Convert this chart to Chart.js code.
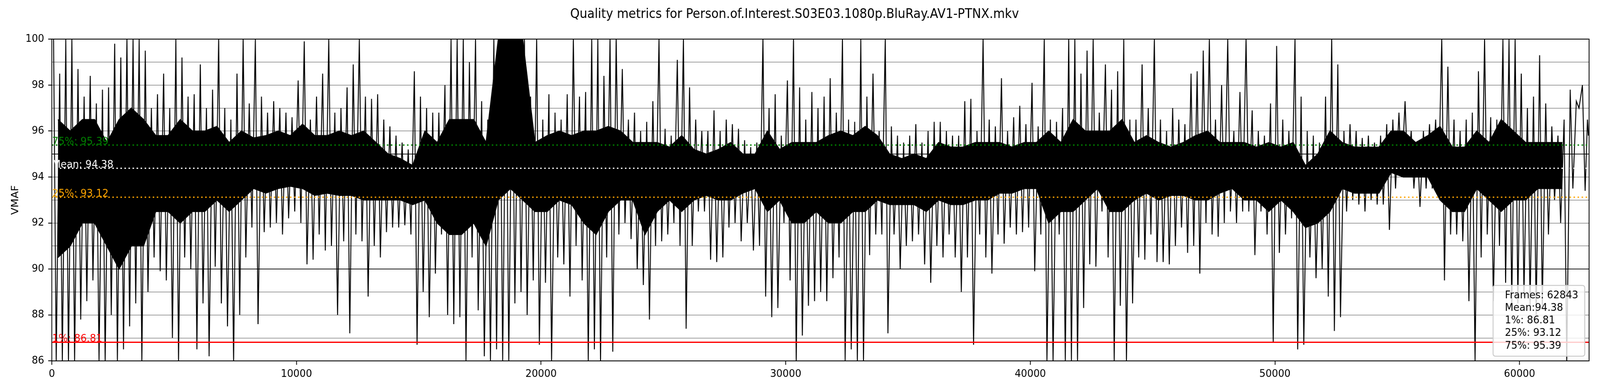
<!DOCTYPE html>
<html>
<head>
<meta charset="utf-8">
<script src="https://cdn.jsdelivr.net/npm/chart.js@4/dist/chart.umd.min.js"></script>
<style>html,body{margin:0;padding:0;background:#fff;overflow:hidden}canvas{display:block}</style>
</head>
<body>
<canvas id="c" width="4400" height="1000"></canvas>
<script>
// ---------------- data ----------------
const chartTitle = 'Quality metrics for Person.of.Interest.S03E03.1080p.BluRay.AV1-PTNX.mkv';
const yAxisTitle = 'VMAF';
const frameCount = 62843;
const yMin = 86;
const yMax = 100;
const xTickValues = [0, 10000, 20000, 30000, 40000, 50000, 60000];

// summary statistics
const statNames  = ['1%', '25%', 'Mean', '75%'];
const statValues = [86.81, 93.12, 94.38, 95.39];

// per 250-frame bin: highest and lowest VMAF reached
const BIN = 250;
const vmafBinHigh = [
 100,98.5,100,100,98.7,97.5,98.4,97.2,97.8,97.9, 99.8,99.2,100,100,100,99.5,97.0,97.6,98.5,97.0,
 100,99.2,97.5,97.6,98.9,97.0,97.8,100,97.0,96.5, 98.5,100,97.2,100,97.5,96.8,97.3,97.0,96.8,96.6,
 98.2,99.9,96.5,97.5,98.5,100,96.8,97.0,97.9,98.9, 100,97.5,97.4,97.6,96.5,96.2,95.8,95.5,95.2,98.6,
 97.5,97.0,
 96.8,96.8,98,100,100,100,99.0,100,97.3,96.5, 100,100,100,100,100,100,97.5,100,96.5,97.6,
 96.8,96.5,97.6,100,97.5,97.7,100,100,98.4,100, 100,98.7,96.5,96.8,96.0,96.4,97.3,100,96.1,95.8,
 99.1,100,97.9,96.5,96.0,96.0,96.9,96.0,96.5,96.3, 96.1,95.6,95.3,95.5,100,97.0,97.6,95.8,98.2,100,
 97.9,96.5,97.7,97.0,
 97.5,98.3,96.8,100,96.5,96.4,100,97.5,98.5,96.0, 100,96.2,95.8,95.5,95.8,96.3,95.5,96.0,96.4,96.4,
 96.0,95.8,95.8,97.3,97.4,96.0,100,96.5,96.2,98.3, 96.0,96.6,97.1,96.3,98.1,96.2,100,96.5,96.4,97.0,
 100,100,98.5,99.5,100,96.8,98.9,97.8,98.6,100, 96.5,96.5,98.9,97.0,100,96.5,96.0,97.0,96.5,96.3,
 98.5,98.6,99.5,
 100,96.5,98.0,100,96.0,97.7,100,96.9,96.0,95.8, 97.2,99.7,96.5,96.0,100,97.5,96.0,95.8,95.5,97.5,
 100,98.9,96.0,96.3,96.0,95.7,95.8,95.5,95.8,96.3, 96.5,96.8,97.3,96.0,95.5,96.0,96.3,96.5,100,98.8,
 96.5,96.0,96.5,96.8,98.6,100,96.6,96.5,100,100, 100,98.5,97.0,97.5,99.3,97.2,96.2,95.8,96.5,97.8,
 97.3,98.0,96.5
];
const vmafBinLow = [
 86,86,86,86,87.8,88.6,89.5,86,86,88.0, 86,86.5,87.5,88.5,86,89.0,90.5,89.9,89.5,87.0,
 86,90.5,90.0,86.5,88.5,86.2,90.1,88.5,87.5,86, 88.0,90.5,91.8,87.6,91.6,91.8,92.0,91.5,92.2,92.5,
 92.0,90.2,90.4,91.5,90.8,91.0,88.0,91.2,87.2,91.5, 91.2,88.8,91.0,90.5,91.6,91.8,91.8,91.9,91.5,86.7,
 89.0,87.9,
 89.8,91.5,88.0,87.6,87.9,86,90.5,88.2,86.2,86, 86.5,86,86,88.5,89.0,88.0,89.5,86.7,89.4,86,
 90.5,90.2,88.8,91.0,89.5,86,86.5,86,90.5,86.4, 91.5,92.0,91.3,90.0,89.3,87.8,91.0,91.2,91.5,92.0,
 91.0,87.4,91.0,92.5,92.5,90.4,90.3,90.5,91.8,92.0, 91.2,92.0,90.8,91.0,88.8,87.9,88.3,92.0,89.5,86,
 87.1,88.4,88.6,89.0,
 88.6,89.6,90.5,86,86.5,86,86,90.6,91.5,91.5, 87.2,91.5,90.0,91.0,91.2,91.5,90.2,89.4,91.0,90.5,
 91.5,90.5,89.0,90.5,86.7,91.5,90.5,89.8,91.5,91.1, 91.8,91.5,91.6,91.8,89.9,91.5,86,86,91.5,86,
 86,86,88.3,90.2,90.1,92.5,90.5,86,88.4,86, 88.5,90.5,90.4,91.5,90.3,90.3,90.2,91.0,91.8,90.7,
 91.0,89.8,92.0,
 91.5,91.4,92.0,92.5,92.0,92.5,92.5,90.6,92.5,91.5, 86.8,90.7,91.5,92.2,86.5,86.7,90.5,89.6,90.0,88.8,
 87.3,87.9,92.5,93.0,92.8,92.5,93.0,92.8,92.8,91.7, 93.5,94.0,94.0,93.5,92.7,93.5,93.5,93.2,89.5,91.5,
 91.5,91.2,88.6,86,90.5,91.5,88.6,91.0,89.4,88.3, 88.5,88.8,88.4,88.0,88.4,91.5,93.0,92.0,86,93.5,
 97.0,93.4,95.8
];

// per 500-frame bin: top and bottom of the dense (solid black) band; null = no dense band
const BAND_BIN = 500;
const vmafBandTop = [
 96.5,96,96.5,96.5,95.5,96.5,97,96.5,95.8,95.8, 96.5,96,96,96.2,95.5,96,95.7,95.8,96,95.8,
 96.3,95.8,95.8,96,95.8,96,95.5,95,94.8,94.5, 96,
 95.5,96.5,96.5,96.5,95.5,100,100,100,95.5,95.8, 96,95.8,96,96,96.2,96,95.5,95.5,95.5,95.3,
 95.8,95.2,95.0,95.2,95.5,95.0,95.0,96,95.2,95.5, 95.5,95.5,
 95.8,96,95.8,96.2,95.8,95,94.8,95,94.8,95.5, 95.3,95.3,95.5,95.5,95.5,95.3,95.5,95.5,96,95.5,
 96.5,96,96,96,96.5,95.5,95.8,95.5,95.3,95.5, 95.8,96,
 95.5,95.5,95.5,95.3,95.5,95.3,95.5,94.5,95,96, 95.5,95.3,95.3,95.3,96,96,95.5,95.8,96.2,95.3,
 95.3,96,95.5,96.5,96,95.5,95.5,95.5,95.5,null, null
];
const vmafBandBottom = [
 90.5,91,92,92,91,90,91,91,92.5,92.5, 92,92.5,92.5,93,92.5,93,93.5,93.3,93.5,93.6,
 93.5,93.2,93.3,93.2,93.2,93,93,93,93,92.8, 93,
 92,91.5,91.5,92,91,93,93.5,93,92.5,92.5, 93,92.8,92,91.5,92.5,93,93,91.5,92.5,93,
 92.5,93,93.2,93,93,93.3,93.5,92.5,93,92, 92,92.5,
 92,92,92.5,92.5,93,92.8,92.8,92.8,92.5,93, 92.8,92.8,93,93,93.3,93.3,93.5,93.5,92,92.5,
 92.5,93,93.5,92.5,92.5,93,93.3,93,93.2,93.2, 93,93,
 93.3,93.5,93,93,92.5,93,92.5,91.8,92,92.5, 93.5,93.3,93.3,93.3,94.2,94,94,94,93,92.5,
 92.5,93.5,93,92.5,93,93,93.5,93.5,93.5,null, null
];

// ---------------- styles ----------------
const FONT = '"DejaVu Sans", "Liberation Sans", sans-serif';
const DOT = [4, 7.1];
const statStyle = {
  '1%':   {color: '#ff0000', dash: [], width: 3.4},
  '25%':  {color: '#ffa500', dash: DOT, width: 3.3},
  'Mean': {color: '#ffffff', dash: DOT, width: 3.3},
  '75%':  {color: '#008000', dash: DOT, width: 3.3}
};

// ---------------- build datasets ----------------
const spikePts = [];
vmafBinHigh.forEach((h, i) => {
  const s = i * BIN;
  const e = Math.min(s + BIN, frameCount);
  spikePts.push({x: s + (e - s) * 0.28, y: h});
  spikePts.push({x: s + (e - s) * 0.72, y: vmafBinLow[i]});
});
const bandX = i => Math.min(i * BAND_BIN + BAND_BIN / 2, frameCount);
const bandTopPts = vmafBandTop.map((v, i) => ({x: bandX(i), y: v}));
const bandBotPts = vmafBandBottom.map((v, i) => ({x: bandX(i), y: v}));

const LW = 2.6;
const datasets = [
  {label: 'band top', data: bandTopPts, borderColor: '#000', borderWidth: LW, tension: 0,
   pointRadius: 0, fill: false, spanGaps: false, order: 3},
  {label: 'band bottom', data: bandBotPts, borderColor: '#000', borderWidth: LW, tension: 0,
   pointRadius: 0, fill: '-1', backgroundColor: '#000', spanGaps: false, order: 3},
  {label: 'VMAF', data: spikePts, borderColor: '#000', borderWidth: LW,
   pointRadius: 0, tension: 0, fill: false, order: 2}
];
statNames.forEach((n, i) => {
  datasets.push({
    label: n,
    data: [{x: 0, y: statValues[i]}, {x: frameCount, y: statValues[i]}],
    borderColor: statStyle[n].color, borderWidth: statStyle[n].width,
    borderDash: statStyle[n].dash, borderCapStyle: 'butt',
    pointRadius: 0, fill: false, order: 0
  });
});

const legendLines = [
  'Frames: ' + frameCount,
  'Mean:' + statValues[statNames.indexOf('Mean')].toFixed(2),
  '1%: ' + statValues[statNames.indexOf('1%')].toFixed(2),
  '25%: ' + statValues[statNames.indexOf('25%')].toFixed(2),
  '75%: ' + statValues[statNames.indexOf('75%')].toFixed(2)
];

// ---------------- overlay plugin ----------------
function roundRect(ctx, x, y, w, h, r) {
  ctx.beginPath();
  ctx.moveTo(x + r, y);
  ctx.lineTo(x + w - r, y); ctx.arcTo(x + w, y, x + w, y + r, r);
  ctx.lineTo(x + w, y + h - r); ctx.arcTo(x + w, y + h, x + w - r, y + h, r);
  ctx.lineTo(x + r, y + h); ctx.arcTo(x, y + h, x, y + h - r, r);
  ctx.lineTo(x, y + r); ctx.arcTo(x, y, x + r, y, r);
  ctx.closePath();
}
const overlay = {
  id: 'overlay',
  afterDatasetsDraw(chart) {
    const {ctx, chartArea: a} = chart;
    const ys = chart.scales.y;
    ctx.save();
    ctx.font = '27px ' + FONT;
    ctx.textAlign = 'left';
    ctx.textBaseline = 'alphabetic';
    statNames.forEach((n, i) => {
      ctx.fillStyle = statStyle[n].color;
      ctx.fillText(n + ': ' + statValues[i].toFixed(2), a.left + 1, ys.getPixelForValue(statValues[i]) - 1);
    });
    // spines
    ctx.strokeStyle = '#000';
    ctx.lineWidth = 2.2;
    ctx.strokeRect(a.left, a.top, a.right - a.left, a.bottom - a.top);
    // legend box
    const w = 252, h = 181;
    const bx = a.right - 12 - w, by = a.bottom - 12 - h;
    roundRect(ctx, bx, by, w, h, 6);
    ctx.fillStyle = 'rgba(255,255,255,0.8)';
    ctx.fill();
    ctx.strokeStyle = '#cccccc';
    ctx.lineWidth = 2.7;
    ctx.stroke();
    ctx.fillStyle = '#000';
    ctx.font = '27px ' + FONT;
    legendLines.forEach((t, i) => ctx.fillText(t, bx + 32.5, by + 32.5 + i * 32.25));
    ctx.restore();
  }
};

// ---------------- chart ----------------
Chart.defaults.font.family = FONT;
Chart.defaults.color = '#000';
const canvas = document.getElementById('c');
new Chart(canvas, {
  type: 'line',
  data: {datasets},
  plugins: [overlay],
  options: {
    responsive: false,
    animation: false,
    devicePixelRatio: 1,
    layout: {padding: {left: 0, right: 30, top: 0, bottom: 0}},
    plugins: {
      legend: {display: false},
      tooltip: {enabled: false},
      title: {
        display: true, text: chartTitle, color: '#000',
        font: {size: 33, weight: 'normal', family: FONT, lineHeight: 1.2},
        padding: {top: 17.4, bottom: 43}
      }
    },
    scales: {
      x: {
        type: 'linear', min: 0, max: frameCount,
        afterBuildTicks: s => { s.ticks = xTickValues.map(v => ({value: v})); },
        afterFit: s => { s.height = 77; },
        border: {display: false},
        grid: {display: true, drawOnChartArea: false, drawTicks: true, tickLength: 10,
               tickColor: '#000', tickWidth: 2.2},
        ticks: {autoSkip: false, maxRotation: 0, minRotation: 0,
                font: {size: 27}, color: '#000', padding: 8,
                callback: v => String(v)}
      },
      y: {
        type: 'linear', min: yMin, max: yMax,
        afterFit: s => { s.width = 142.5; },
        border: {display: false},
        title: {display: true, text: yAxisTitle, color: '#000', font: {size: 27},
                padding: {top: 26.8, bottom: 0}},
        grid: {
          color: c => (c.tick && c.tick.value % 5 === 0) ? '#1a1a1a' : '#808080',
          lineWidth: c => (c.tick && c.tick.value % 5 === 0) ? 2 : 1.4,
          drawTicks: true, tickLength: 10,
          tickColor: c => (c.tick && c.tick.value % 2 === 0) ? '#000' : 'rgba(0,0,0,0)',
          tickWidth: 2.2
        },
        ticks: {stepSize: 1, autoSkip: false, font: {size: 27}, color: '#000', padding: 11,
                callback: v => (v % 2 === 0 ? String(v) : '')}
      }
    }
  }
});
// the browser viewport may be narrower than 4400px: fit the 4400x1000 drawing into it
canvas.style.width = window.innerWidth + 'px';
canvas.style.height = window.innerHeight + 'px';
</script>
</body>
</html>
